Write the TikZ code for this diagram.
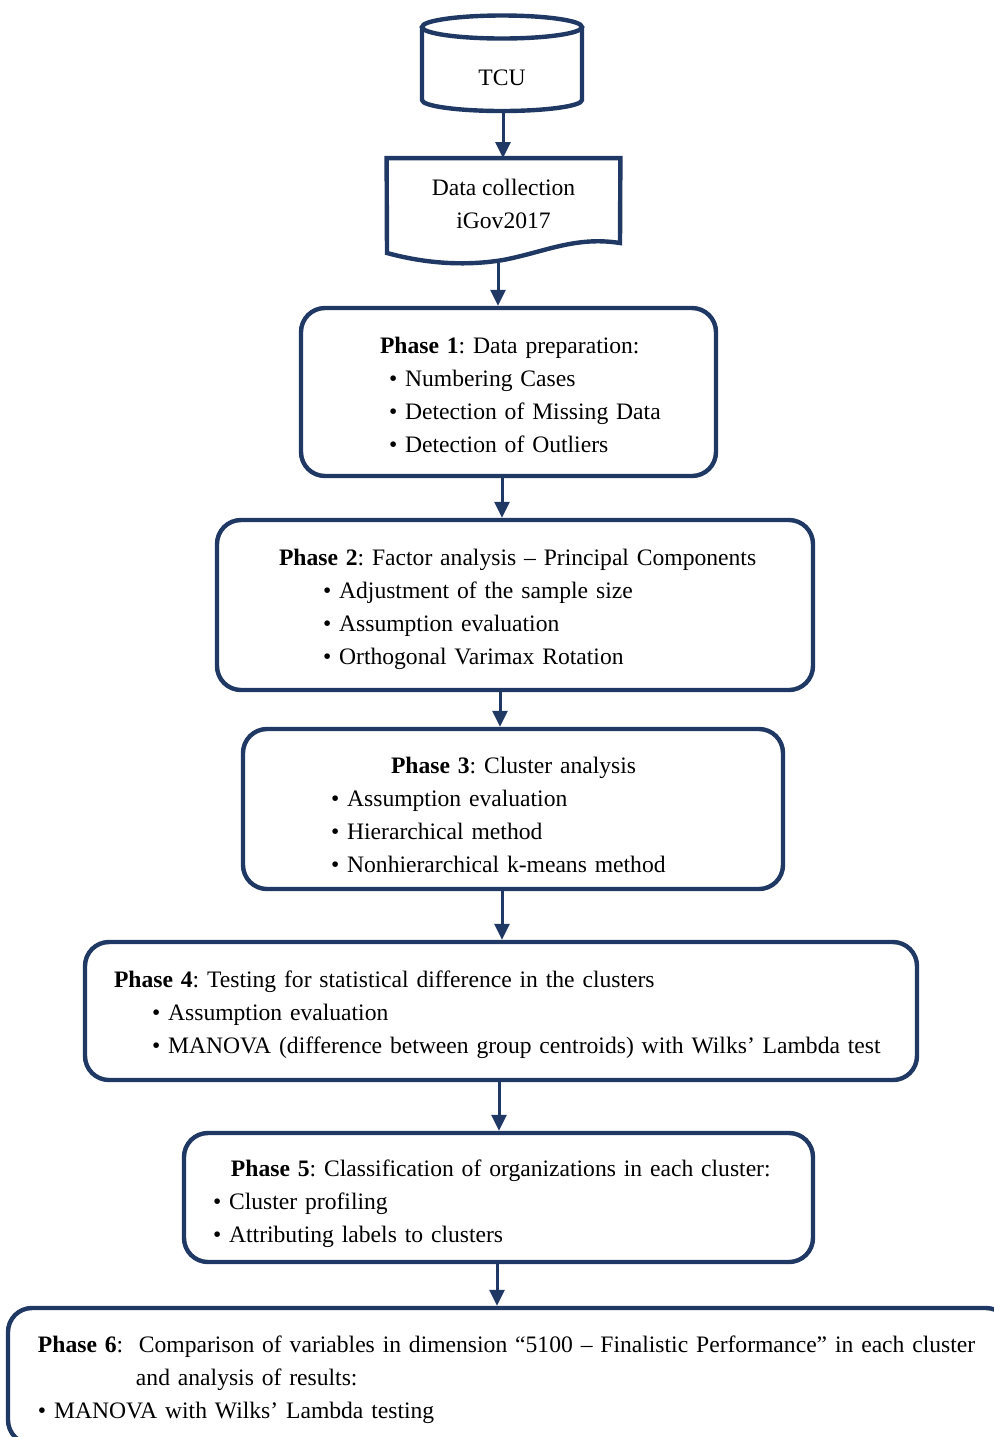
\documentclass[tikz,border=0pt]{standalone}
\usepackage{fontspec}
\setmainfont{Liberation Serif}
\usetikzlibrary{arrows.meta,positioning,calc}
\definecolor{ink}{HTML}{1F3864}
\frenchspacing
\tikzset{
  >={Triangle[width=7.5pt,length=8pt]},
  every node/.style={font=\fontsize{11.8}{16.5}\selectfont,text=black},
  phase/.style={draw=ink,line width=2.2pt,rounded corners=12pt,inner xsep=0pt,inner ysep=0pt,align=left},
  outline/.style={draw=ink,line width=2.2pt},
  plain/.style={inner sep=0pt,align=center},
  arrow/.style={->,draw=ink,line width=1.5pt},
}
\newcommand{\bul}{\textbullet\ }
% pushes the text block of a box down by half of #1
\newcommand{\drop}[1]{\rule{0pt}{\dimexpr\fontcharht\font`h+#1\relax}}

\begin{document}
\begin{tikzpicture}[x=0.5pt,y=-0.5pt]
\useasboundingbox (0,0) rectangle (993,1437);

% source and data collection
\node[plain,minimum width=80pt,minimum height=34pt] (tcu) at (502,78) {TCU};
\draw[outline] (502,27) ellipse [x radius=40pt,y radius=5.75pt];
\draw[outline] (422,27) -- (422,100) arc[start angle=180,end angle=360,x radius=40pt,y radius=5.5pt] -- (582,27);

\node[plain,minimum width=116.5pt,minimum height=45pt] (doc) at (503.5,203.5) {Data collection\\iGov2017};
\draw[outline] (doc.north west) -- (doc.north east) -- (620,243)
  .. controls (575,236) and (545,252) .. (503,260)
  .. controls (460,267) and (420,262) .. (387,253) -- cycle;

% phases
\node[phase,text width=207.5pt,minimum height=84pt] (p1) at (508.5,392)
{\hspace*{39.5pt}\drop{3pt}\textbf{Phase 1}: Data preparation:\\
 \hspace*{44pt}\bul Numbering Cases\\
 \hspace*{44pt}\bul Detection of Missing Data\\
 \hspace*{44pt}\bul Detection of Outliers};

\node[phase,text width=298pt,minimum height=85pt] (p2) at (515,605)
{\hspace*{31pt}\drop{5pt}\textbf{Phase 2}: Factor analysis -- Principal Components\\
 \hspace*{53pt}\bul Adjustment of the sample size\\
 \hspace*{53pt}\bul Assumption evaluation\\
 \hspace*{53pt}\bul Orthogonal Varimax Rotation};

\node[phase,text width=270pt,minimum height=80pt] (p3) at (513,809)
{\hspace*{74pt}\drop{6pt}\textbf{Phase 3}: Cluster analysis\\
 \hspace*{44pt}\bul Assumption evaluation\\
 \hspace*{44pt}\bul Hierarchical method\\
 \hspace*{44pt}\bul Nonhierarchical k-means method};

\node[phase,text width=416pt,minimum height=69pt] (p4) at (501,1011)
{\hspace*{14.5pt}\drop{4pt}\textbf{Phase 4}: Testing for statistical difference in the clusters\\
 \hspace*{33.5pt}\bul Assumption evaluation\\
 \hspace*{33.5pt}\bul MANOVA (difference between group centroids) with Wilks' Lambda test};

\node[phase,text width=314.5pt,minimum height=64.5pt] (p5) at (498.5,1197.5)
{\hspace*{23.5pt}\drop{7pt}\textbf{Phase 5}: Classification of organizations in each cluster:\\
 \hspace*{14.5pt}\bul Cluster profiling\\
 \hspace*{14.5pt}\bul Attributing labels to clusters};

\node[phase,text width=501pt,minimum height=68pt] (p6) at (509,1376)
{\hspace*{15pt}\drop{4pt}\textbf{Phase 6}:\ \ Comparison of variables in dimension ``5100 -- Finalistic Performance'' in each cluster\\
 \hspace*{64pt}and analysis of results:\\
 \hspace*{15pt}\bul MANOVA with Wilks' Lambda testing};

% flow
\draw[arrow] ([xshift=0.5pt]tcu.south) -- ([xshift=-0.25pt]doc.north);
\draw[arrow] ([xshift=-2.75pt,yshift=-7pt]doc.south) -- ([xshift=-5.25pt]p1.north);
\draw[arrow] ([xshift=-3.25pt]p1.south) -- ([xshift=-6.5pt]p2.north);
\draw[arrow] ([xshift=-7.5pt]p2.south) -- ([xshift=-6.5pt]p3.north);
\draw[arrow] ([xshift=-5.5pt]p3.south) -- ([xshift=0.5pt]p4.north);
\draw[arrow] ([xshift=-1pt]p4.south) -- ([xshift=0.25pt]p5.north);
\draw[arrow] ([xshift=-0.75pt]p5.south) -- ([xshift=-6pt]p6.north);
\end{tikzpicture}
\end{document}
